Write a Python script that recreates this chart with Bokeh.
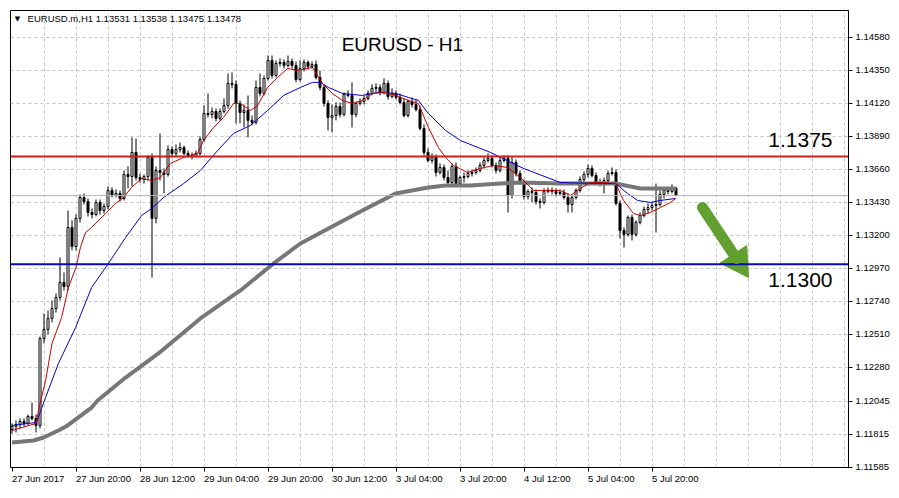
import math
from bokeh.plotting import figure
from bokeh.models import (Range1d, FixedTicker, Span, Label, Arrow,
                          PrintfTickFormatter, ColumnDataSource)
from bokeh.embed import file_html
from bokeh.resources import INLINE

# ---------------- data (EURUSD H1, one value per bar) ----------------
open_prices = [
    1.11848, 1.11869, 1.11883, 1.11904, 1.11890, 1.11939, 1.11925, 1.11876, 1.12482, 1.12545,
    1.12622, 1.12691, 1.12768, 1.12873, 1.12845, 1.13256, 1.13123, 1.13319, 1.13465, 1.13437,
    1.13360, 1.13346, 1.13430, 1.13374, 1.13402, 1.13514, 1.13479, 1.13493, 1.13458, 1.13625,
    1.13611, 1.13779, 1.13604, 1.13590, 1.13611, 1.13744, 1.13319, 1.13653, 1.13639, 1.13625,
    1.13799, 1.13772, 1.13799, 1.13813, 1.13772, 1.13758, 1.13751, 1.13772, 1.13869, 1.14050,
    1.14043, 1.14064, 1.14016, 1.14064, 1.14106, 1.14260, 1.14253, 1.14120, 1.14057, 1.14071,
    1.14002, 1.13988, 1.14232, 1.14190, 1.14294, 1.14420, 1.14315, 1.14399, 1.14406, 1.14385,
    1.14413, 1.14385, 1.14287, 1.14364, 1.14406, 1.14378, 1.14392, 1.14301, 1.14232, 1.14120,
    1.14023, 1.14036, 1.14099, 1.14043, 1.14183, 1.14176, 1.14043, 1.14120, 1.14134, 1.14155,
    1.14190, 1.14225, 1.14232, 1.14197, 1.14260, 1.14169, 1.14190, 1.14162, 1.14127, 1.14036,
    1.14134, 1.14113, 1.14078, 1.13946, 1.13779, 1.13723, 1.13744, 1.13639, 1.13674, 1.13604,
    1.13569, 1.13681, 1.13562, 1.13604, 1.13611, 1.13632, 1.13639, 1.13653, 1.13688, 1.13723,
    1.13737, 1.13688, 1.13653, 1.13723, 1.13737, 1.13479, 1.13709, 1.13632, 1.13569, 1.13472,
    1.13507, 1.13500, 1.13437, 1.13430, 1.13507, 1.13514, 1.13507, 1.13493, 1.13500, 1.13465,
    1.13416, 1.13465, 1.13514, 1.13590, 1.13625, 1.13667, 1.13618, 1.13569, 1.13562, 1.13583,
    1.13632, 1.13639, 1.13423, 1.13235, 1.13207, 1.13326, 1.13207, 1.13291, 1.13339, 1.13381,
    1.13395, 1.13409, 1.13416, 1.13486, 1.13514, 1.13507, 1.13531,
]
high_prices = [
    1.11890, 1.11911, 1.11925, 1.11925, 1.11952, 1.12036, 1.11952, 1.12496, 1.12656, 1.12677,
    1.12747, 1.12796, 1.13047, 1.12942, 1.13374, 1.13305, 1.13346, 1.13486, 1.13493, 1.13458,
    1.13388, 1.13451, 1.13451, 1.13423, 1.13542, 1.13535, 1.13521, 1.13514, 1.13653, 1.13681,
    1.13883, 1.13876, 1.13632, 1.13625, 1.13758, 1.13772, 1.13681, 1.13911, 1.13667, 1.13827,
    1.13820, 1.13834, 1.13848, 1.13827, 1.13792, 1.13779, 1.13792, 1.13890, 1.14106, 1.14190,
    1.14092, 1.14085, 1.14085, 1.14155, 1.14329, 1.14336, 1.14280, 1.14141, 1.14113, 1.14176,
    1.14036, 1.14280, 1.14329, 1.14315, 1.14455, 1.14455, 1.14420, 1.14434, 1.14427, 1.14455,
    1.14434, 1.14413, 1.14420, 1.14427, 1.14420, 1.14413, 1.14420, 1.14350, 1.14253, 1.14141,
    1.14113, 1.14127, 1.14127, 1.14197, 1.14211, 1.14267, 1.14134, 1.14155, 1.14176, 1.14211,
    1.14253, 1.14260, 1.14253, 1.14294, 1.14280, 1.14225, 1.14211, 1.14190, 1.14155, 1.14148,
    1.14162, 1.14148, 1.14106, 1.13974, 1.13806, 1.13772, 1.13765, 1.13702, 1.13695, 1.13653,
    1.13702, 1.13709, 1.13618, 1.13639, 1.13653, 1.13660, 1.13674, 1.13709, 1.13744, 1.13772,
    1.13758, 1.13709, 1.13744, 1.13758, 1.13758, 1.13744, 1.13730, 1.13653, 1.13590, 1.13521,
    1.13535, 1.13521, 1.13458, 1.13528, 1.13535, 1.13535, 1.13528, 1.13521, 1.13521, 1.13493,
    1.13479, 1.13528, 1.13611, 1.13646, 1.13695, 1.13688, 1.13639, 1.13597, 1.13604, 1.13653,
    1.13674, 1.13660, 1.13444, 1.13256, 1.13339, 1.13346, 1.13305, 1.13360, 1.13402, 1.13423,
    1.13430, 1.13562, 1.13514, 1.13535, 1.13535, 1.13556, 1.13538,
]
low_prices = [
    1.11820, 1.11827, 1.11855, 1.11869, 1.11876, 1.11911, 1.11827, 1.11855, 1.12447, 1.12510,
    1.12594, 1.12663, 1.12747, 1.12817, 1.12817, 1.13096, 1.13096, 1.13291, 1.13416, 1.13333,
    1.13319, 1.13333, 1.13346, 1.13353, 1.13381, 1.13465, 1.13465, 1.13437, 1.13444, 1.13528,
    1.13542, 1.13583, 1.13569, 1.13562, 1.13583, 1.12907, 1.13284, 1.13583, 1.13493, 1.13611,
    1.13744, 1.13751, 1.13779, 1.13758, 1.13744, 1.13730, 1.13744, 1.13758, 1.13855, 1.14023,
    1.14016, 1.13995, 1.14002, 1.14050, 1.14085, 1.14225, 1.13981, 1.13981, 1.13953, 1.13883,
    1.13967, 1.13974, 1.14169, 1.14176, 1.14280, 1.14294, 1.14301, 1.14378, 1.14364, 1.14371,
    1.14364, 1.14267, 1.14273, 1.14343, 1.14357, 1.14364, 1.14287, 1.14211, 1.14099, 1.13932,
    1.13918, 1.14002, 1.14023, 1.14030, 1.14162, 1.13953, 1.14023, 1.14106, 1.14113, 1.14141,
    1.14176, 1.14197, 1.14176, 1.14183, 1.14148, 1.14155, 1.14148, 1.14113, 1.14023, 1.14023,
    1.14092, 1.14064, 1.13932, 1.13758, 1.13709, 1.13702, 1.13611, 1.13625, 1.13583, 1.13549,
    1.13556, 1.13542, 1.13549, 1.13569, 1.13597, 1.13611, 1.13625, 1.13639, 1.13667, 1.13709,
    1.13674, 1.13632, 1.13639, 1.13709, 1.13360, 1.13458, 1.13611, 1.13556, 1.13451, 1.13451,
    1.13430, 1.13416, 1.13388, 1.13416, 1.13493, 1.13486, 1.13472, 1.13479, 1.13451, 1.13360,
    1.13360, 1.13451, 1.13500, 1.13556, 1.13604, 1.13604, 1.13556, 1.13542, 1.13493, 1.13569,
    1.13618, 1.13409, 1.13179, 1.13116, 1.13193, 1.13165, 1.13193, 1.13277, 1.13326, 1.13353,
    1.13374, 1.13221, 1.13402, 1.13458, 1.13486, 1.13493, 1.13475,
]
close_prices = [
    1.11869, 1.11883, 1.11904, 1.11890, 1.11939, 1.11925, 1.11876, 1.12482, 1.12545, 1.12622,
    1.12691, 1.12768, 1.12873, 1.12845, 1.13256, 1.13123, 1.13319, 1.13465, 1.13437, 1.13360,
    1.13346, 1.13430, 1.13374, 1.13402, 1.13514, 1.13479, 1.13493, 1.13458, 1.13625, 1.13611,
    1.13779, 1.13604, 1.13590, 1.13611, 1.13744, 1.13319, 1.13653, 1.13639, 1.13625, 1.13799,
    1.13772, 1.13799, 1.13813, 1.13772, 1.13758, 1.13751, 1.13772, 1.13869, 1.14050, 1.14043,
    1.14064, 1.14016, 1.14064, 1.14106, 1.14260, 1.14253, 1.14120, 1.14057, 1.14071, 1.14002,
    1.13988, 1.14232, 1.14190, 1.14294, 1.14420, 1.14315, 1.14399, 1.14406, 1.14385, 1.14413,
    1.14385, 1.14287, 1.14364, 1.14406, 1.14378, 1.14392, 1.14301, 1.14232, 1.14120, 1.14023,
    1.14036, 1.14099, 1.14043, 1.14183, 1.14176, 1.14043, 1.14120, 1.14134, 1.14155, 1.14190,
    1.14225, 1.14232, 1.14197, 1.14260, 1.14169, 1.14190, 1.14162, 1.14127, 1.14036, 1.14134,
    1.14113, 1.14078, 1.13946, 1.13779, 1.13723, 1.13744, 1.13639, 1.13674, 1.13604, 1.13569,
    1.13681, 1.13562, 1.13604, 1.13611, 1.13632, 1.13639, 1.13653, 1.13688, 1.13723, 1.13737,
    1.13688, 1.13653, 1.13723, 1.13737, 1.13479, 1.13709, 1.13632, 1.13569, 1.13472, 1.13507,
    1.13500, 1.13437, 1.13430, 1.13507, 1.13514, 1.13507, 1.13493, 1.13500, 1.13465, 1.13416,
    1.13465, 1.13514, 1.13590, 1.13625, 1.13667, 1.13618, 1.13569, 1.13562, 1.13583, 1.13632,
    1.13639, 1.13423, 1.13235, 1.13207, 1.13326, 1.13207, 1.13291, 1.13339, 1.13381, 1.13395,
    1.13409, 1.13416, 1.13486, 1.13514, 1.13507, 1.13528, 1.13478,
]

# moving averages (bar index, price)
ma_fast_bars = [0, 6, 7, 8.4, 10, 12.4, 14.1, 16, 17.1, 18.4, 19.9, 23.4, 25.9, 27.9, 29.9,
                32.4, 34.9, 37.1, 39.6, 42.9, 46.4, 47.9, 50.4, 52.9, 55.4, 57.1, 59.6, 61.4,
                63.9, 66.4, 68.9, 71.4, 75.1, 77.6, 80.1, 82.6, 85.1, 87.6, 90.1, 93.4, 95.9,
                99.1, 101.6, 104.1, 106.6, 108.4, 110.4, 113.9, 117.1, 120.4, 123.9, 127.1,
                130.4, 133.9, 137.1, 139.6, 142.1, 144.6, 147.9, 150.9, 152.9, 155.4, 157.1,
                159.6, 162.1, 164.6, 165.9]
ma_fast_vals = [1.11841, 1.11890, 1.12029, 1.12189, 1.12447, 1.12629, 1.12838, 1.12977, 1.13116,
                1.13221, 1.13256, 1.13353, 1.13423, 1.13465, 1.13535, 1.13597, 1.13583, 1.13604,
                1.13702, 1.13744, 1.13772, 1.13862, 1.13953, 1.14023, 1.14120, 1.14120, 1.14071,
                1.14106, 1.14232, 1.14301, 1.14364, 1.14350, 1.14371, 1.14260, 1.14190, 1.14141,
                1.14120, 1.14141, 1.14190, 1.14197, 1.14176, 1.14141, 1.14120, 1.13953, 1.13813,
                1.13744, 1.13688, 1.13639, 1.13667, 1.13688, 1.13674, 1.13604, 1.13514, 1.13514,
                1.13514, 1.13479, 1.13528, 1.13569, 1.13569, 1.13562, 1.13444, 1.13353, 1.13339,
                1.13360, 1.13395, 1.13430, 1.13458]

ma_mid_bars = [0, 6.1, 8.4, 11.6, 15.9, 19.9, 24.1, 28.4, 32.4, 34.9, 37.9, 42.9, 47.1, 51.4,
               55.4, 59.6, 63.9, 67.9, 72.1, 75.1, 77.1, 79.1, 82.6, 87.6, 91.6, 95.9, 99.1,
               101.6, 104.1, 108.4, 112.1, 119.6, 127.9, 137.1, 147.1, 150.9, 153.9, 156.4,
               159.6, 162.1, 165.9]
ma_mid_vals = [1.11876, 1.11897, 1.12071, 1.12308, 1.12559, 1.12838, 1.13005, 1.13186, 1.13339,
               1.13388, 1.13465, 1.13562, 1.13653, 1.13792, 1.13911, 1.13967, 1.14071, 1.14176,
               1.14232, 1.14267, 1.14267, 1.14232, 1.14190, 1.14176, 1.14197, 1.14190, 1.14162,
               1.14141, 1.14050, 1.13932, 1.13862, 1.13779, 1.13667, 1.13569, 1.13562, 1.13562,
               1.13493, 1.13444, 1.13430, 1.13444, 1.13458]

ma_slow_bars = [0, 5.4, 7.9, 11.6, 13.9, 19.9, 21.4, 28.4, 36.6, 47.1, 57.1, 65.4, 72.1, 79.6,
                87.6, 95.9, 104.1, 108.4, 114.6, 122.1, 127.1, 137.1, 150.9, 157.1, 166.1]
ma_slow_vals = [1.11757, 1.11771, 1.11792, 1.11841, 1.11876, 1.12001, 1.12050, 1.12210, 1.12378,
                1.12622, 1.12817, 1.13005, 1.13144, 1.13256, 1.13374, 1.13493, 1.13535, 1.13549,
                1.13549, 1.13562, 1.13569, 1.13562, 1.13562, 1.13528, 1.13528]

price_ticks = [1.14580, 1.14350, 1.14120, 1.13890, 1.13660, 1.13430, 1.13200,
               1.12970, 1.12740, 1.12510, 1.12280, 1.12045, 1.11815, 1.11585]
time_tick_bars = [0, 16, 32, 48, 64, 80, 96, 112, 128, 144, 160]
time_tick_labels = ["27 Jun 2017", "27 Jun 20:00", "28 Jun 12:00", "29 Jun 04:00",
                    "29 Jun 20:00", "30 Jun 12:00", "3 Jul 04:00", "3 Jul 20:00",
                    "4 Jul 12:00", "5 Jul 04:00", "5 Jul 20:00"]

resistance_level = 1.1375
support_level = 1.1300
last_price = 1.13478
header_text = "EURUSD.m,H1  1.13531 1.13538 1.13475 1.13478"
chart_title = "EURUSD - H1"

# ---------------- figure ----------------
FONT = "Liberation Sans"
AX_SIZE = "9.5px"

p = figure(width=899, height=498, title=None,
           x_range=Range1d(-0.375, 209.125), y_range=Range1d(1.11583, 1.14768),
           output_backend="svg", toolbar_location=None, y_axis_location="right",
           min_border_left=10, min_border_right=51, min_border_top=10, min_border_bottom=31)
p.background_fill_color = "white"
p.border_fill_color = "white"
p.outline_line_color = "black"
p.outline_line_width = 1

# bottom time axis; labels start at their tick (tiny negative orientation => left aligned)
xa = p.xaxis[0]
xa.ticker = FixedTicker(ticks=time_tick_bars)
xa.major_label_overrides = {b: t for b, t in zip(time_tick_bars, time_tick_labels)}
xa.major_label_orientation = -0.0001
xa.major_label_text_font = FONT
xa.major_label_text_font_size = AX_SIZE
xa.major_label_text_color = "black"
xa.major_label_standoff = 7
xa.major_tick_in = 0
xa.major_tick_out = 4
xa.minor_tick_line_color = None
xa.axis_line_color = "black"
xa.major_tick_line_color = "black"

ya = p.yaxis[0]
ya.ticker = FixedTicker(ticks=price_ticks)
ya.formatter = PrintfTickFormatter(format="%.5f")
ya.major_label_text_font = FONT
ya.major_label_text_font_size = AX_SIZE
ya.major_label_text_color = "black"
ya.major_label_standoff = 3
ya.major_tick_in = 0
ya.major_tick_out = 4
ya.minor_tick_line_color = None
ya.axis_line_color = "black"
ya.major_tick_line_color = "black"

# grids
p.xgrid.ticker = FixedTicker(ticks=list(range(8, 209, 8)))
for g in (p.xgrid[0], p.ygrid[0]):
    g.grid_line_color = "#c4c4c4"
    g.grid_line_dash = "3 3"
    g.grid_line_width = 1

# candles
bars = list(range(len(close_prices)))
src = ColumnDataSource(dict(
    x=bars, high=high_prices, low=low_prices,
    top=[max(o, c) for o, c in zip(open_prices, close_prices)],
    bottom=[min(o, c) for o, c in zip(open_prices, close_prices)],
    fill=["white" if c >= o else "black" for o, c in zip(open_prices, close_prices)],
))
p.segment(x0="x", y0="low", x1="x", y1="high", source=src, line_color="black", line_width=1)
p.vbar(x="x", width=0.5, top="top", bottom="bottom", source=src,
       fill_color="fill", line_color="black", line_width=1)

# moving averages
p.line(ma_slow_bars, ma_slow_vals, line_color="#777777", line_width=4, line_join="round")
p.line(ma_mid_bars, ma_mid_vals, line_color="#0000c8", line_width=1)
p.line(ma_fast_bars, ma_fast_vals, line_color="#c40000", line_width=1)

# horizontal levels
p.add_layout(Span(location=last_price, dimension="width", line_color="#b4b4b4", line_width=1))
p.add_layout(Span(location=resistance_level, dimension="width", line_color="#cc1c1c", line_width=2))
p.add_layout(Span(location=support_level, dimension="width", line_color="#0a0aaa", line_width=2))

# price tags on the axis
for lvl, bg in ((resistance_level, "#ff0000"), (last_price, "#000000"), (support_level, "#0a0ae6")):
    p.add_layout(Label(x=209.4, y=lvl, text=" %.5f " % lvl, text_align="left",
                       text_baseline="middle", text_font=FONT, text_font_size=AX_SIZE,
                       text_color="white", background_fill_color=bg))

# header and title
p.add_layout(Label(x=0.7, y=1.14709, text="\u25bc", text_align="left", text_baseline="middle",
                   text_font="DejaVu Sans", text_font_size="7px", text_color="black"))
p.add_layout(Label(x=3.9, y=1.14709, text=header_text, text_align="left", text_baseline="middle",
                   text_font=FONT, text_font_size="9.5px", text_color="black"))
p.add_layout(Label(x=97.6, y=1.14531, text=chart_title, text_align="center", text_baseline="middle",
                   text_font=FONT, text_font_size="19px", text_color="black"))

# level captions
p.add_layout(Label(x=197.1, y=1.13866, text="%.4f" % resistance_level, text_align="center",
                   text_baseline="middle", text_font=FONT, text_font_size="21px", text_color="black"))
p.add_layout(Label(x=197.1, y=1.12890, text="%.4f" % support_level, text_align="center",
                   text_baseline="middle", text_font=FONT, text_font_size="21px", text_color="black"))

# green arrow: rounded shaft plus a triangular head
GREEN = "#62a032"
p.add_layout(Arrow(x_start=172.6, y_start=1.13395, x_end=181.1, y_end=1.13040,
                   line_color=GREEN, line_width=11, line_cap="round", start=None, end=None))
head_angle = math.atan2(-70, 46) - math.pi / 2   # direction of the shaft on screen
p.scatter([181.6], [1.13015], marker="triangle", size=32, angle=head_angle,
          fill_color=GREEN, line_color=GREEN)

open("out.html", "w").write(file_html(p, INLINE))
